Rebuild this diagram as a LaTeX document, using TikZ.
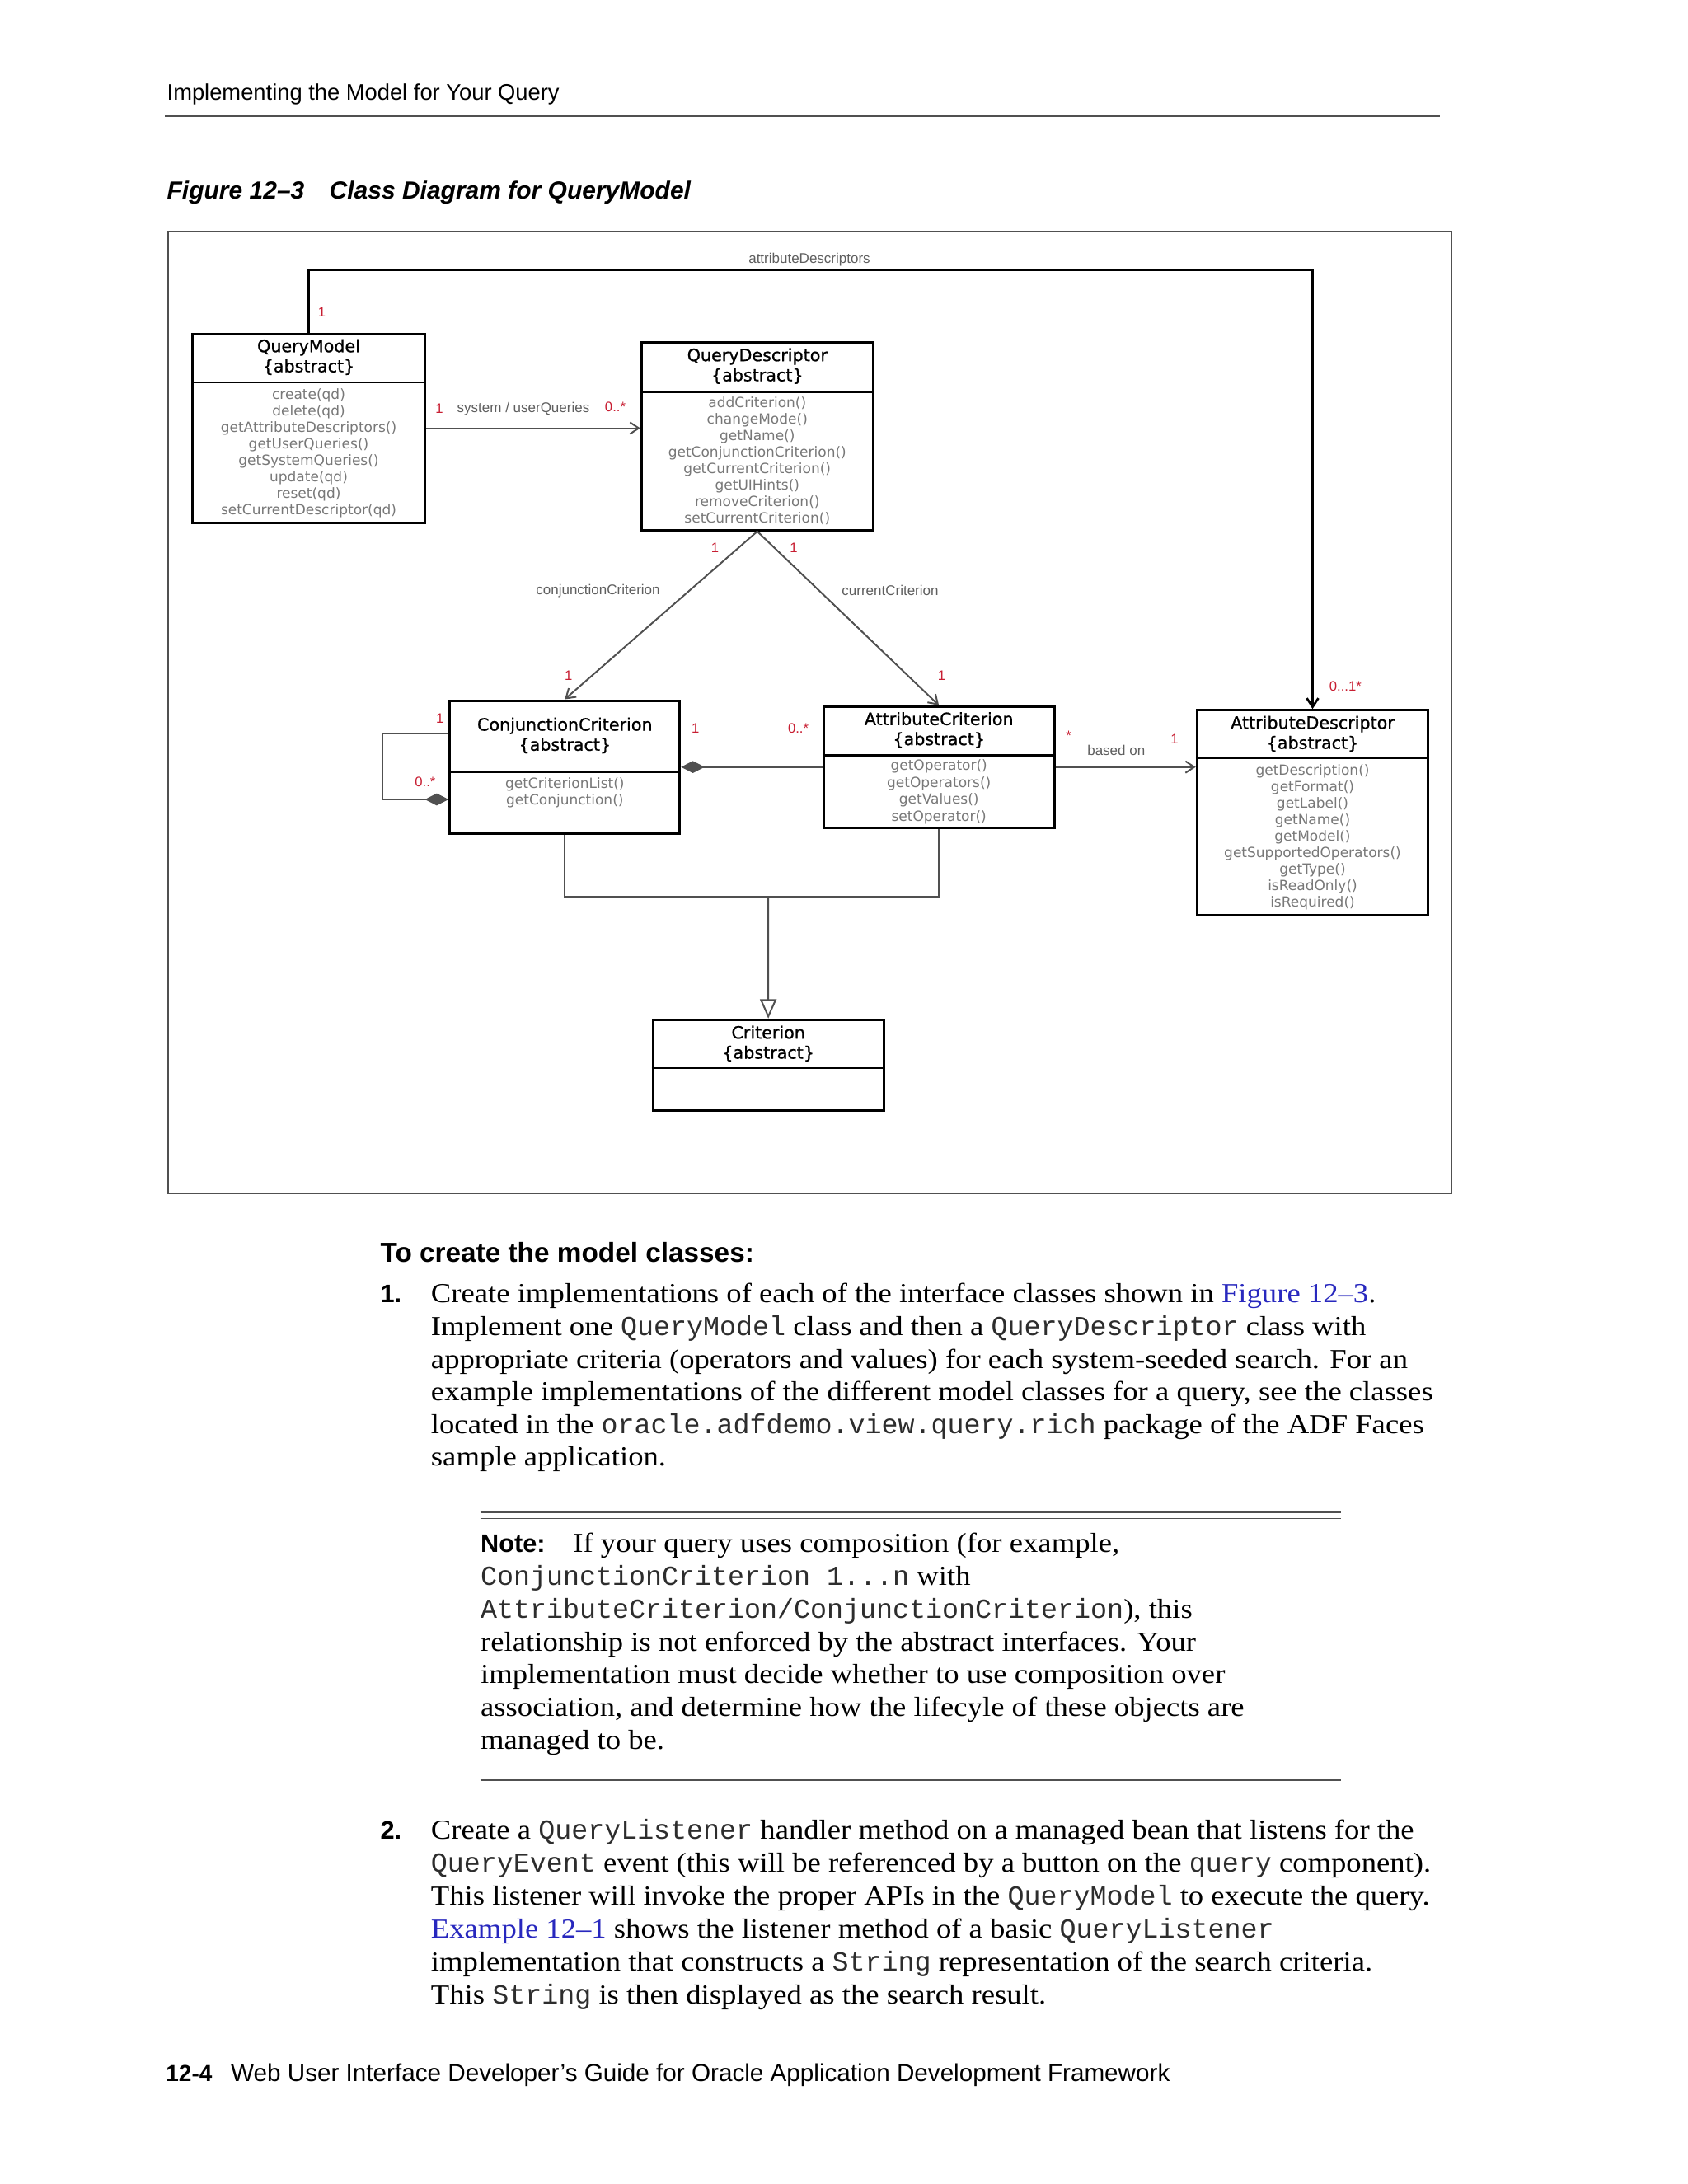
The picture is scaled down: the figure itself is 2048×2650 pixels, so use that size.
\documentclass[tikz,border=0pt]{standalone}
\usepackage{fontspec}
\setmainfont[FakeStretch=1.1]{Liberation Serif}
\setsansfont{Liberation Sans}
\setmonofont{Liberation Mono}
\newfontfamily\umlfont{DejaVu Sans}
\newfontfamily\umltitlefont[FakeBold=0.8]{DejaVu Sans}
\usetikzlibrary{arrows.meta,fit}
\definecolor{linkblue}{RGB}{40,40,190}
\definecolor{multred}{RGB}{200,30,50}
\definecolor{opgray}{RGB}{120,120,120}
\definecolor{lblgray}{RGB}{95,95,95}
\definecolor{edgegray}{RGB}{80,80,80}
\definecolor{monogray}{RGB}{45,45,45}
\newcommand{\mono}[1]{{\ttfamily\color{monogray}#1}}
\newcommand{\umlsize}{\umlfont\fontsize{5.1}{6}\selectfont}

\begin{document}
\begin{tikzpicture}[x=0.3pt,y=-0.3pt,
	classbox/.style={draw=black, line width=0.9pt, inner sep=0pt},
	divider/.style={draw=black, line width=0.8pt},
	classname/.style={align=center, inner sep=0pt, font=\umltitlefont\fontsize{6.2}{7.3}\selectfont},
	ops/.style={align=center, inner sep=0pt, text=opgray, font=\umlsize},
	mult/.style={inner sep=0pt, text=multred, font=\sffamily\fontsize{5}{6}\selectfont},
	role/.style={inner sep=0pt, text=lblgray, font=\sffamily\fontsize{5.1}{6}\selectfont},
	assoc/.style={draw=edgegray, line width=0.6pt, -{Straight Barb[length=3.2pt,width=4.2pt]}},
	strongassoc/.style={draw=black, line width=0.8pt, -{Straight Barb[length=3.2pt,width=4.2pt]}},
	compo/.style={draw=edgegray, line width=0.6pt, -{Diamond[length=8.6pt,width=4.4pt,fill=edgegray]}},
	genline/.style={draw=edgegray, line width=0.6pt},
	bodyline/.style={anchor=base west, inner sep=0pt, font=\fontsize{10}{12}\selectfont},
	sfline/.style={anchor=base west, inner sep=0pt, font=\sffamily\fontsize{8.2}{10}\selectfont},
	sfbold/.style={anchor=base west, inner sep=0pt, font=\sffamily\bfseries\fontsize{9.2}{11}\selectfont}]
	\useasboundingbox (0,0) rectangle (2048,2650);
	\fill [white] (0,0) rectangle (2048,2650);
	% running head
	\node [sfline] (runhead) at (202,121.7) {Implementing the Model for Your Query};
	\draw [edgegray, line width=0.5pt] (200,141) -- (1747,141);
	\node [sfline, font=\sffamily\bfseries\itshape\fontsize{9}{11}\selectfont] (figno) at (202,241.7) {Figure 12–3};
	\node [sfline, font=\sffamily\bfseries\itshape\fontsize{9}{11}\selectfont] (figtitle) at (399,241.7) {Class Diagram for QueryModel};
	\draw [edgegray, line width=0.45pt] (204,281) rectangle (1761,1448);
	% classes
	\node [classbox, fit={(233.3,405) (515.7,634)}] (qm) {};
	\draw [divider] (qm.west |- 0,464) -- (qm.east |- 0,464);
	\node [classname] (qmname) at (374.5,433.3) {QueryModel\\\{abstract\}};
	\node [ops] (qmops) at (374.5,549.7) {create(qd)\\delete(qd)\\getAttributeDescriptors()\\getUserQueries()\\getSystemQueries()\\update(qd)\\reset(qd)\\setCurrentDescriptor(qd)};
	\node [classbox, fit={(778.3,415) (1059.3,643.3)}] (qd) {};
	\draw [divider] (qd.west |- 0,475.7) -- (qd.east |- 0,475.7);
	\node [classname] (qdname) at (918.8,444.2) {QueryDescriptor\\\{abstract\}};
	\node [ops] (qdops) at (918.8,559.2) {addCriterion()\\changeMode()\\getName()\\getConjunctionCriterion()\\getCurrentCriterion()\\getUIHints()\\removeCriterion()\\setCurrentCriterion()};
	\node [classbox, fit={(545.7,850) (824.8,1011.7)}] (cc) {};
	\draw [divider] (cc.west |- 0,936.7) -- (cc.east |- 0,936.7);
	\node [classname] (ccname) at (685.3,892.5) {ConjunctionCriterion\\\{abstract\}};
	\node [ops] (ccops) at (685.3,961.7) {getCriterionList()\\getConjunction()};
	\node [classbox, fit={(999.3,857.3) (1279,1004)}] (ac) {};
	\draw [divider] (ac.west |- 0,916.7) -- (ac.east |- 0,916.7);
	\node [classname] (acname) at (1139.2,885.8) {AttributeCriterion\\\{abstract\}};
	\node [ops, font=\umlfont\fontsize{5.1}{6.15}\selectfont] (acops) at (1139.2,961) {getOperator()\\getOperators()\\getValues()\\setOperator()};
	\node [classbox, fit={(1452.3,861.7) (1732.7,1110)}] (ad) {};
	\draw [divider] (ad.west |- 0,920) -- (ad.east |- 0,920);
	\node [classname] (adname) at (1592.5,890.3) {AttributeDescriptor\\\{abstract\}};
	\node [ops] (adops) at (1592.5,1016.2) {getDescription()\\getFormat()\\getLabel()\\getName()\\getModel()\\getSupportedOperators()\\getType()\\isReadOnly()\\isRequired()};
	\node [classbox, fit={(792,1237.3) (1072.3,1347.7)}] (crit) {};
	\draw [divider] (crit.west |- 0,1296) -- (crit.east |- 0,1296);
	\node [classname] (critname) at (932.2,1266.2) {Criterion\\\{abstract\}};
	% connectors
	\coordinate (adbend) at (1592.5,327.5);
	\draw [strongassoc] (qm.north) |- (adbend) -- (ad.north);
	\node [role] (lbladd) at (982,315) {attributeDescriptors};
	\node [mult] (mqmad) at (390.6,379) {1};
	\node [mult] (madqm) at (1632.3,832.7) {0...1*};
	\draw [assoc] (qm.east) -- (qm.east -| qd.west);
	\node [mult] (mqmqd) at (533,496) {1};
	\node [role] (lblsys) at (635,496) {system / userQueries};
	\node [mult] (mqdqm) at (746.5,494) {0..*};
	\draw [assoc] (qd.south) -- (cc.north);
	\draw [assoc] (qd.south) -- (ac.north);
	\node [mult] (mqdcc) at (867.6,664.3) {1};
	\node [mult] (mqdac) at (963,664.3) {1};
	\node [role] (lblconj) at (725.5,716.7) {conjunctionCriterion};
	\node [role] (lblcur) at (1080,716.7) {currentCriterion};
	\node [mult] (mccqd) at (689.7,820) {1};
	\node [mult] (macqd) at (1142.6,820) {1};
	\draw [compo] (ac.west) -- (ac.west -| cc.east);
	\node [mult] (mccac) at (843.8,883.3) {1};
	\node [mult] (maccc) at (968.5,883.3) {0..*};
	\coordinate (loopup) at (464.4,890);
	\coordinate (loopdn) at (464.4,970);
	\draw [compo] (cc.west |- loopup) -- (loopup) -- (loopdn) -- (cc.west |- loopdn);
	\node [mult] (mccin) at (533.8,871.7) {1};
	\node [mult] (mccout) at (515.9,948.3) {0..*};
	\draw [assoc] (ac.east) -- (ac.east -| ad.west);
	\node [mult] (macad) at (1296.7,892.7) {*};
	\node [role] (lblbased) at (1354.3,910) {based on};
	\node [mult] (madac) at (1425,896.7) {1};
	\coordinate (genjoin) at (932.2,1088);
	\draw [genline] (cc.south) |- (genjoin) -| (ac.south);
	\draw [genline, -{Triangle[open,length=7pt,width=6pt]}] (genjoin) -- (crit.north);
	% body text
	\node [sfbold, font=\sffamily\bfseries\fontsize{10}{12}\selectfont] (steps) at (461,1531) {To create the model classes:};
	\node [sfbold] (numa) at (461,1580) {1.};
	\node [bodyline] (pa1) at (522.3,1580) {Create implementations of each of the interface classes shown in \textcolor{linkblue}{Figure 12–3}.};
	\node [bodyline] (pa2) at (522.3,1620) {Implement one \mono{QueryModel} class and then a \mono{QueryDescriptor} class with};
	\node [bodyline] (pa3) at (522.3,1660) {appropriate criteria (operators and values) for each system-seeded search. For an};
	\node [bodyline] (pa4) at (522.3,1699.3) {example implementations of the different model classes for a query, see the classes};
	\node [bodyline] (pa5) at (522.3,1739.3) {located in the \mono{oracle.adfdemo.view.query.rich} package of the ADF Faces};
	\node [bodyline] (pa6) at (522.3,1778.7) {sample application.};
	% note
	\draw [edgegray, line width=0.45pt] (582.5,1835) -- (1626.7,1835) (582.5,1842.7) -- (1626.7,1842.7);
	\node [sfbold] (notehead) at (582.5,1883.3) {Note:};
	\node [bodyline] (nt1) at (694.7,1883.3) {If your query uses composition (for example,};
	\node [bodyline] (nt2) at (582.5,1923.3) {\mono{ConjunctionCriterion 1...n} with};
	\node [bodyline] (nt3) at (582.5,1963.3) {\mono{AttributeCriterion/ConjunctionCriterion}), this};
	\node [bodyline] (nt4) at (582.5,2003.3) {relationship is not enforced by the abstract interfaces. Your};
	\node [bodyline] (nt5) at (582.5,2042.7) {implementation must decide whether to use composition over};
	\node [bodyline] (nt6) at (582.5,2082.7) {association, and determine how the lifecyle of these objects are};
	\node [bodyline] (nt7) at (582.5,2122.7) {managed to be.};
	\draw [edgegray, line width=0.45pt] (582.5,2152.3) -- (1626.7,2152.3) (582.5,2160) -- (1626.7,2160);
	\node [sfbold] (numb) at (461,2231) {2.};
	\node [bodyline] (pb1) at (522.3,2231) {Create a \mono{QueryListener} handler method on a managed bean that listens for the};
	\node [bodyline] (pb2) at (522.3,2271) {\mono{QueryEvent} event (this will be referenced by a button on the \mono{query} component).};
	\node [bodyline] (pb3) at (522.3,2311) {This listener will invoke the proper APIs in the \mono{QueryModel} to execute the query.};
	\node [bodyline] (pb4) at (522.3,2351) {\textcolor{linkblue}{Example 12–1} shows the listener method of a basic \mono{QueryListener}};
	\node [bodyline] (pb5) at (522.3,2391) {implementation that constructs a \mono{String} representation of the search criteria.};
	\node [bodyline] (pb6) at (522.3,2431) {This \mono{String} is then displayed as the search result.};
	% running foot
	\node [sfline, font=\sffamily\bfseries\fontsize{8.4}{10}\selectfont] (pageno) at (200.7,2525) {12-4};
	\node [sfline, font=\sffamily\fontsize{8.9}{10}\selectfont] (runfoot) at (279.5,2525) {Web User Interface Developer’s Guide for Oracle Application Development Framework};
\end{tikzpicture}
\end{document}
